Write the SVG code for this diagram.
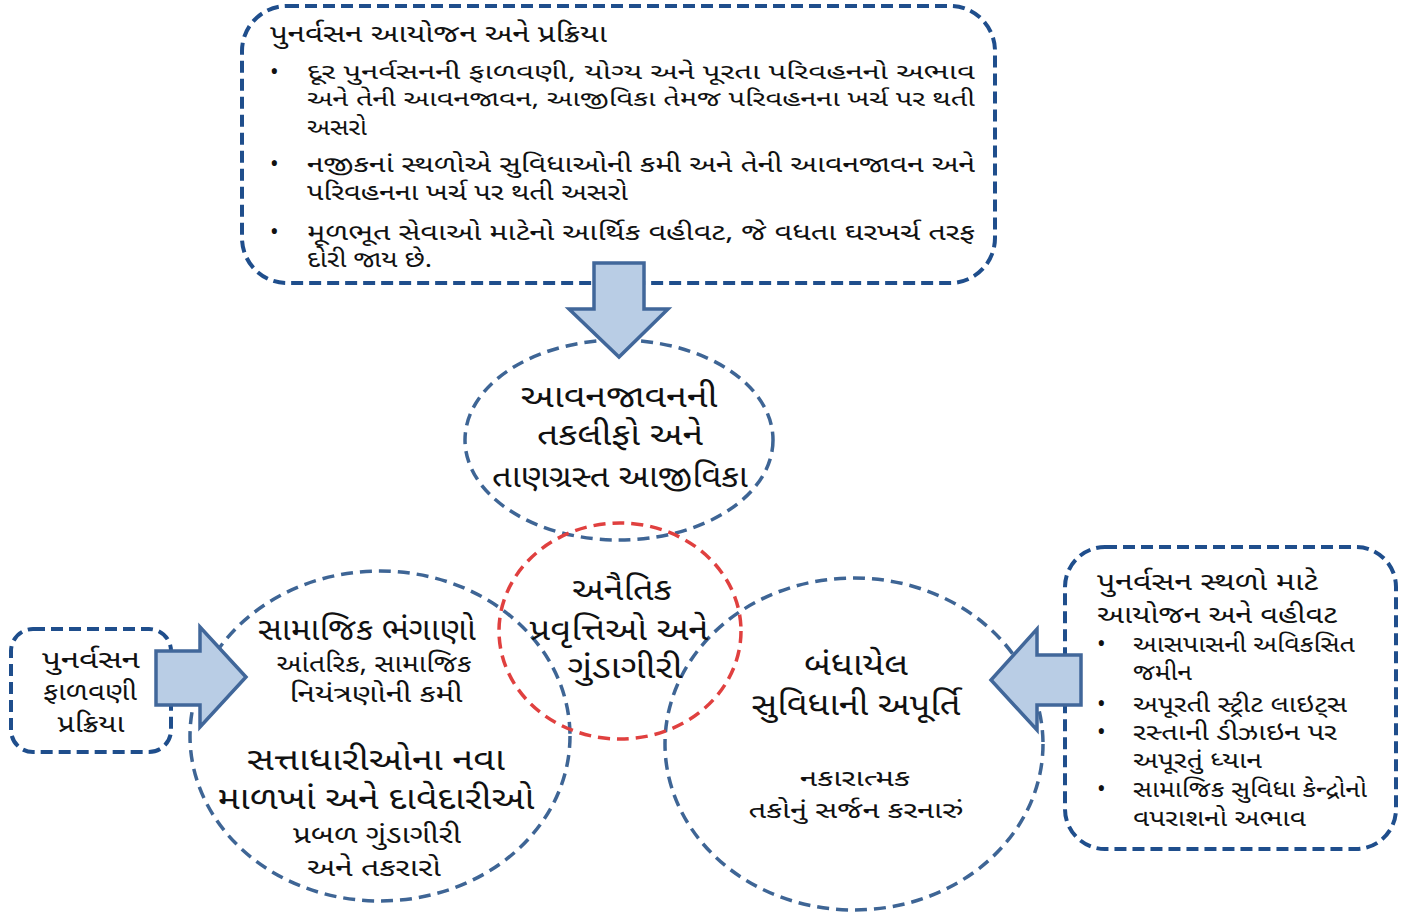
<svg xmlns="http://www.w3.org/2000/svg" width="1424" height="915" viewBox="0 0 1424 915">
<style>
.box{fill:none;stroke:#1F4E8C;stroke-width:4;stroke-dasharray:12 6}
.ell{fill:none;stroke:#3E6595;stroke-width:3.5;stroke-dasharray:12 7}
.red{fill:none;stroke:#E0403F;stroke-width:3.5;stroke-dasharray:12 7}
.arr{fill:#B9CDE5;stroke:#41679A;stroke-width:3.5;stroke-linejoin:miter}
text{font-family:"Noto Sans Gujarati","Noto Sans","DejaVu Sans",sans-serif;fill:#111}
.t21{font-size:21px}
.t22{font-size:23px}
.t24{font-size:25px}
.b28{font-size:31px}
.c{text-anchor:middle}
</style>
<rect width="1424" height="915" fill="#fff"/>
<g id="top-box">
<rect class="box" x="242" y="6" width="753" height="277" rx="45"/>
<text class="t24" x="270" y="42" textLength="337" lengthAdjust="spacingAndGlyphs">પુનર્વસન આયોજન અને પ્રક્રિયા</text>
<text class="t22" x="270" y="80">•</text>
<text class="t21" x="307" y="79" textLength="668" lengthAdjust="spacingAndGlyphs">દૂર પુનર્વસનની ફાળવણી, યોગ્ય અને પૂરતા પરિવહનનો અભાવ</text>
<text class="t21" x="307" y="106" textLength="668" lengthAdjust="spacingAndGlyphs">અને તેની આવનજાવન, આજીવિકા તેમજ પરિવહનના ખર્ચ પર થતી</text>
<text class="t22" x="307" y="135" textLength="60" lengthAdjust="spacingAndGlyphs">અસરો</text>
<text class="t22" x="270" y="172">•</text>
<text class="t22" x="307" y="172" textLength="668" lengthAdjust="spacingAndGlyphs">નજીકનાં સ્થળોએ સુવિધાઓની કમી અને તેની આવનજાવન અને</text>
<text class="t22" x="307" y="200" textLength="321" lengthAdjust="spacingAndGlyphs">પરિવહનના ખર્ચ પર થતી અસરો</text>
<text class="t22" x="270" y="240">•</text>
<text class="t22" x="307" y="240" textLength="668" lengthAdjust="spacingAndGlyphs">મૂળભૂત સેવાઓ માટેનો આર્થિક વહીવટ, જે  વધતા ઘરખર્ચ તરફ</text>
<text class="t22" x="307" y="267" textLength="125" lengthAdjust="spacingAndGlyphs">દોરી જાય છે.</text>
</g>
<g id="left-box">
<rect class="box" x="11" y="629" width="160" height="123" rx="22"/>
<text class="t24 c" x="91" y="668" textLength="98" lengthAdjust="spacingAndGlyphs">પુનર્વસન</text>
<text class="t24 c" x="90" y="700" textLength="94" lengthAdjust="spacingAndGlyphs">ફાળવણી</text>
<text class="t24 c" x="91" y="732" textLength="67" lengthAdjust="spacingAndGlyphs">પ્રક્રિયા</text>
</g>
<g id="right-box">
<rect class="box" x="1065" y="547" width="331" height="302" rx="40"/>
<text class="t24" x="1097" y="590" textLength="221" lengthAdjust="spacingAndGlyphs">પુનર્વસન સ્થળો માટે</text>
<text class="t24" x="1097" y="623" textLength="240" lengthAdjust="spacingAndGlyphs">આયોજન અને વહીવટ</text>
<text class="t22" x="1097" y="652">•</text>
<text class="t22" x="1133" y="652" textLength="222" lengthAdjust="spacingAndGlyphs">આસપાસની અવિકસિત</text>
<text class="t22" x="1133" y="680" textLength="59" lengthAdjust="spacingAndGlyphs">જમીન</text>
<text class="t22" x="1097" y="712">•</text>
<text class="t22" x="1133" y="712" textLength="214" lengthAdjust="spacingAndGlyphs">અપૂરતી સ્ટ્રીટ લાઇટ્સ</text>
<text class="t22" x="1097" y="740">•</text>
<text class="t22" x="1133" y="740" textLength="204" lengthAdjust="spacingAndGlyphs">રસ્તાની ડીઝાઇન પર</text>
<text class="t22" x="1133" y="768" textLength="129" lengthAdjust="spacingAndGlyphs">અપૂરતું ધ્યાન</text>
<text class="t22" x="1097" y="797">•</text>
<text class="t22" x="1133" y="797" textLength="234" lengthAdjust="spacingAndGlyphs">સામાજિક સુવિધા કેન્દ્રોનો</text>
<text class="t22" x="1133" y="826" textLength="173" lengthAdjust="spacingAndGlyphs">વપરાશનો અભાવ</text>
</g>
<g id="circle-top">
<ellipse class="ell" cx="619" cy="440" rx="154" ry="100"/>
<text class="b28 c" x="619" y="407" textLength="197" lengthAdjust="spacingAndGlyphs">આવનજાવનની</text>
<text class="b28 c" x="620" y="445" textLength="166" lengthAdjust="spacingAndGlyphs">તકલીફો અને</text>
<text class="b28 c" x="620" y="487" textLength="256" lengthAdjust="spacingAndGlyphs">તાણગ્રસ્ત આજીવિકા</text>
</g>
<g id="circle-left">
<ellipse class="ell" cx="380" cy="736" rx="190" ry="165"/>
<text class="b28 c" x="367" y="640" textLength="218" lengthAdjust="spacingAndGlyphs">સામાજિક ભંગાણો</text>
<text class="t24 c" x="374" y="672" textLength="195" lengthAdjust="spacingAndGlyphs">આંતરિક, સામાજિક</text>
<text class="t24 c" x="376" y="702" textLength="173" lengthAdjust="spacingAndGlyphs">નિયંત્રણોની કમી</text>
<text class="b28 c" x="376" y="770" textLength="258" lengthAdjust="spacingAndGlyphs">સત્તાધારીઓના નવા</text>
<text class="b28 c" x="376" y="809" textLength="317" lengthAdjust="spacingAndGlyphs">માળખાં અને દાવેદારીઓ</text>
<text class="t24 c" x="377" y="843" textLength="168" lengthAdjust="spacingAndGlyphs">પ્રબળ ગુંડાગીરી</text>
<text class="t24 c" x="374" y="876" textLength="134" lengthAdjust="spacingAndGlyphs">અને તકરારો</text>
</g>
<g id="circle-right">
<ellipse class="ell" cx="854" cy="744" rx="189" ry="166"/>
<text class="b28 c" x="856" y="675" textLength="104" lengthAdjust="spacingAndGlyphs">બંધાયેલ</text>
<text class="b28 c" x="856" y="715" textLength="209" lengthAdjust="spacingAndGlyphs">સુવિધાની અપૂર્તિ</text>
<text class="t22 c" x="855" y="786" textLength="110" lengthAdjust="spacingAndGlyphs">નકારાત્મક</text>
<text class="t22 c" x="856" y="818" textLength="215" lengthAdjust="spacingAndGlyphs">તકોનું સર્જન કરનારું</text>
</g>
<g id="circle-center">
<ellipse class="red" cx="620" cy="631" rx="121" ry="108"/>
<text class="b28 c" x="622" y="600" textLength="100" lengthAdjust="spacingAndGlyphs">અનૈતિક</text>
<text class="b28 c" x="619" y="640" textLength="179" lengthAdjust="spacingAndGlyphs">પ્રવૃત્તિઓ અને</text>
<text class="b28 c" x="625" y="678" textLength="115" lengthAdjust="spacingAndGlyphs">ગુંડાગીરી</text>
</g>
<g id="connectors">
<polygon class="arr" points="594,263 644,263 644,309 668,309 619,357 569,309 594,309"/>
<polygon class="arr" points="156,651 200,651 200,627 246,677 200,727 200,705 156,705"/>
<polygon class="arr" points="1081,655 1037,655 1037,629 991,680 1037,730 1037,705 1081,705"/>
</g>
</svg>
